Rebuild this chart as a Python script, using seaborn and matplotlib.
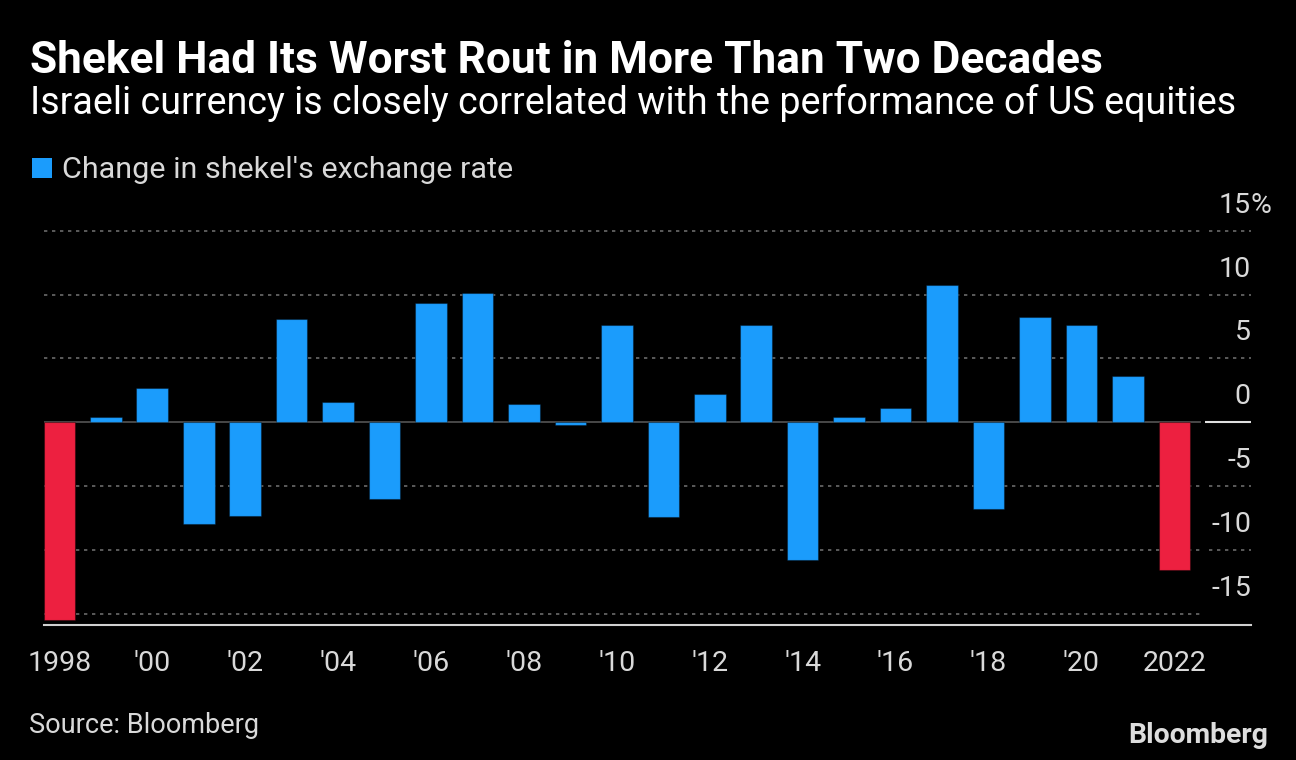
import numpy as np
import pandas as pd
import matplotlib
matplotlib.use("Agg")
import matplotlib.pyplot as plt
import matplotlib.patches as mpatches
from matplotlib import transforms
import seaborn as sns

# ---------------- data ----------------
years = list(range(1998, 2023))
changes = [-15.5, 0.4, 2.7, -8.0, -7.3, 8.1, 1.6, -6.0, 9.35, 10.1,
           1.45, -0.25, 7.65, -7.4, 2.2, 7.65, -10.8, 0.4, 1.15, 10.75,
           -6.8, 8.25, 7.65, 3.6, -11.6]
highlight_years = [1998, 2022]
xtick_labels = ["1998", "'00", "'02", "'04", "'06", "'08", "'10", "'12",
                "'14", "'16", "'18", "'20", "2022"]
ytick_values = [15, 10, 5, 0, -5, -10, -15]
ytick_labels = ["15", "10", "5", "0", "-5", "-10", "-15"]

title = "Shekel Had Its Worst Rout in More Than Two Decades"
subtitle = "Israeli currency is closely correlated with the performance of US equities"
legend_label = "Change in shekel's exchange rate"
source = "Source: Bloomberg"

BLUE = "#1b9cfc"
RED = "#ed2040"
BG = "#000000"
GRID = "#6a6a6a"
TXT = "#d9d9d9"

sns.set_theme(style="dark")
plt.rcParams["font.family"] = ["Roboto", "DejaVu Sans"]

df = pd.DataFrame({
    "year": years,
    "change": changes,
    "group": ["worst" if y in highlight_years else "normal" for y in years],
})

W, H = 1296, 760
fig = plt.figure(figsize=(W / 100, H / 100), dpi=100, facecolor=BG)

# pixel geometry
zero_px = 422.3
ppu = 12.77
ax_left, ax_right, ax_bottom = 44, 1251, 625
ymin = -(ax_bottom - zero_px) / ppu
ymax = 15.5
top_px = zero_px - ymax * ppu
ax = fig.add_axes([ax_left / W, 1 - ax_bottom / H,
                   (ax_right - ax_left) / W, (ax_bottom - top_px) / H])
ax.set_facecolor(BG)

sns.barplot(data=df, x="year", y="change", hue="group",
            palette={"normal": BLUE, "worst": RED}, dodge=False,
            width=0.68, legend=False, saturation=1, ax=ax,
            edgecolor=(0, 0, 0, 0.35), linewidth=0.8)
for p in ax.patches:
    p.set_zorder(3)

ax.set_xlim(-0.33, 25.65)
ax.set_ylim(ymin, ymax)
ax.set_xlabel("")
ax.set_ylabel("")
ax.grid(False)
for s in ["top", "right", "left"]:
    ax.spines[s].set_visible(False)
ax.spines["bottom"].set_color("#d0d0d0")
ax.spines["bottom"].set_linewidth(1.5)
ax.spines["bottom"].set_zorder(4)

ax.set_xticks(list(range(0, len(years), 2)))
ax.set_xticklabels(xtick_labels)
ax.tick_params(axis="x", colors="#d0d0d0", length=8, width=1.1,
               pad=10, labelsize=20.5, labelcolor=TXT, direction="out")
ax.set_yticks([])

# gridlines
trans = transforms.blended_transform_factory(ax.transAxes, ax.transData)
g_end = (1201 - ax_left) / (ax_right - ax_left)
t_start = (1209 - ax_left) / (ax_right - ax_left)
z_start = (1205 - ax_left) / (ax_right - ax_left)
for v in ytick_values:
    if v == 0:
        ax.plot([0, g_end], [0, 0], transform=trans, color="#555555",
                lw=1.2, zorder=1, solid_capstyle="butt")
        ax.plot([z_start, 1.0], [0, 0], transform=trans, color="#e0e0e0",
                lw=1.5, zorder=1, solid_capstyle="butt")
    else:
        ax.plot([0, g_end], [v, v], transform=trans, color=GRID, lw=1.2,
                ls=(0, (2.0, 2.8)), zorder=1, dash_capstyle="butt")
        if v != -15:
            ax.plot([t_start, 1.0], [v, v], transform=trans, color=GRID,
                    lw=1.2, ls=(0, (2.0, 2.8)), zorder=1)

# y labels above gridlines, right-aligned at axes right edge
off = transforms.ScaledTranslation(0, 25.5 / 100, fig.dpi_scale_trans)
for v, lab in zip(ytick_values, ytick_labels):
    ax.text(1.0, v, lab, transform=trans + off, ha="right", va="center",
            fontsize=20.5, color=TXT, clip_on=False)
    if v == 15:
        ax.text(1.0, v, "%", transform=trans + off, ha="left", va="center",
                fontsize=20.5, color=TXT, clip_on=False)

# ---------------- texts ----------------
renderer = fig.canvas.get_renderer()


def fit_width(t, target):
    w = t.get_window_extent(renderer).width
    t.set_fontsize(t.get_fontsize() * target / w)


t1 = fig.text(30 / W, 1 - 73 / H, title, color="white", fontsize=27,
              fontweight="bold", ha="left", va="baseline")
fit_width(t1, 1075)
t2 = fig.text(30 / W, 1 - 114 / H, subtitle, color="white", fontsize=22,
              ha="left", va="baseline")
fit_width(t2, 1205)

fig.patches.append(mpatches.Rectangle((32 / W, 1 - 178 / H), 20 / W, 20 / H,
                                      transform=fig.transFigure,
                                      facecolor=BLUE, edgecolor="none"))
t3 = fig.text(62 / W, 1 - 178 / H, legend_label, color=TXT, fontsize=20,
              ha="left", va="baseline")
fit_width(t3, 449)

t4 = fig.text(29 / W, 1 - 733 / H, source, color=TXT, fontsize=20,
              ha="left", va="baseline")
fit_width(t4, 230)
t5 = fig.text(1268 / W, 1 - 743 / H, "Bloomberg", color="#dddddd",
              fontsize=20, fontweight="bold", ha="right", va="baseline")
fit_width(t5, 140)

fig.savefig("out.png", dpi=100, facecolor=BG)
